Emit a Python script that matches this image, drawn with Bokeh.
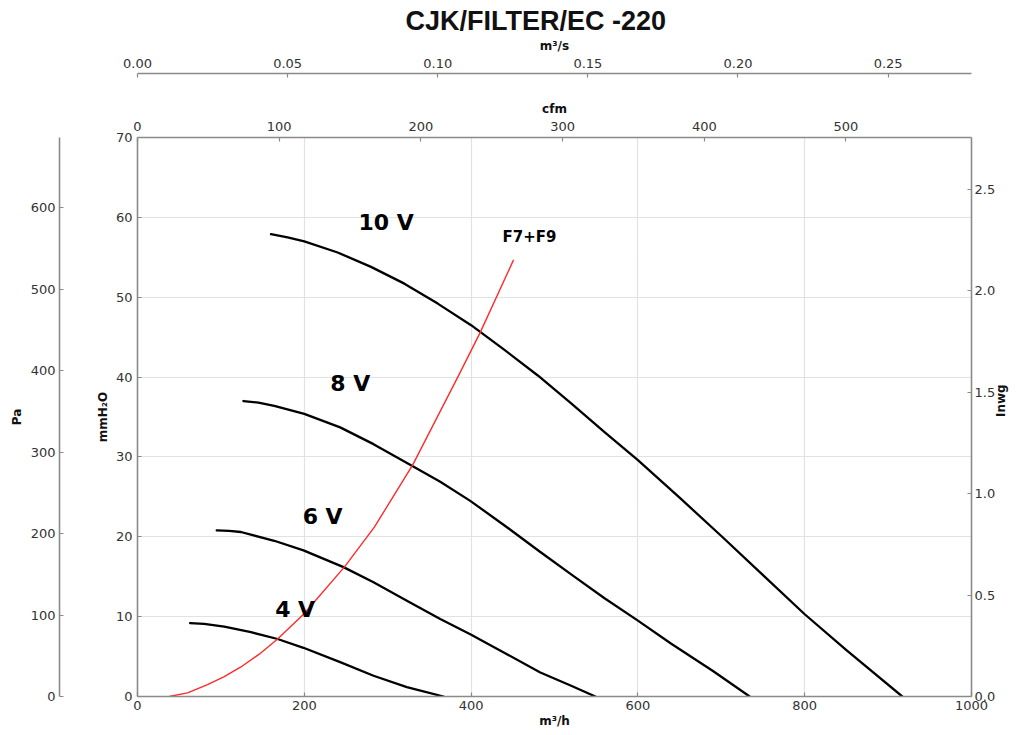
import math
from bokeh.plotting import figure
from bokeh.models import LinearAxis, Range1d, FixedTicker, ColumnDataSource
from bokeh.core.properties import value
from bokeh.embed import file_html
from bokeh.resources import INLINE

# ---------------- data ----------------
q_10v = [160, 180, 200, 240, 280, 320, 360, 400, 440, 480, 520, 560, 600, 650, 700, 750, 800, 850, 917]
p_10v = [57.9, 57.5, 57.0, 55.6, 53.8, 51.7, 49.2, 46.5, 43.4, 40.2, 36.7, 33.1, 29.6, 24.9, 20.1, 15.2, 10.3, 5.8, 0.0]

q_8v = [127, 145, 164, 200, 243, 283, 329, 363, 399, 443, 483, 520, 560, 600, 640, 690, 734]
p_8v = [37.0, 36.8, 36.4, 35.4, 33.7, 31.6, 28.9, 26.9, 24.5, 21.2, 18.1, 15.3, 12.3, 9.5, 6.6, 3.2, 0.0]

q_6v = [95, 110, 124, 164, 199, 247, 283, 323, 363, 399, 443, 483, 520, 549]
p_6v = [20.8, 20.75, 20.6, 19.5, 18.3, 16.2, 14.3, 12.0, 9.7, 7.8, 5.3, 3.0, 1.35, 0.0]

q_4v = [63, 80, 104, 136, 168, 199, 243, 283, 323, 367]
p_4v = [9.2, 9.1, 8.76, 8.05, 7.2, 6.1, 4.3, 2.6, 1.17, 0.0]

q_filter = [38, 60, 84, 104, 124, 146, 168, 200, 248, 284, 330, 384, 411, 451]
p_filter = [0.0, 0.45, 1.5, 2.5, 3.7, 5.3, 7.2, 10.4, 16.2, 21.2, 29.0, 40.0, 45.6, 54.7]

label_text = ["10 V", "8 V", "6 V", "4 V"]
label_q = [298, 255, 222, 189]
label_p = [59.4, 39.15, 22.6, 10.9]
filter_label = ["F7+F9"]
filter_label_q = [470]
filter_label_p = [57.5]

ticks_m3h = [0, 200, 400, 600, 800, 1000]
ticks_mmh2o = [0, 10, 20, 30, 40, 50, 60, 70]
ticks_pa = [0, 100, 200, 300, 400, 500, 600]
ticks_inwg = [0.0, 0.5, 1.0, 1.5, 2.0, 2.5]
ticks_cfm = [0, 100, 200, 300, 400, 500]
ticks_m3s = [0.00, 0.05, 0.10, 0.15, 0.20, 0.25]
labels_inwg = ["0.0", "0.5", "1.0", "1.5", "2.0", "2.5"]
labels_m3s = ["0.00", "0.05", "0.10", "0.15", "0.20", "0.25"]

Q_MAX = 1000.0
P_MAX = 70.0

AX = "#8a8a8a"
TXT = "#333333"

p = figure(width=1018, height=735, output_backend="svg", toolbar_location=None,
           x_range=Range1d(0, Q_MAX), y_range=Range1d(0, P_MAX),
           min_border_left=137, min_border_right=47, min_border_top=137, min_border_bottom=39,
           background_fill_color="white", border_fill_color="white")
p.outline_line_color = None

p.extra_y_ranges = {"pa": Range1d(0, P_MAX * 9.80665), "inwg": Range1d(0, P_MAX / 25.4)}
p.extra_x_ranges = {"cfm": Range1d(0, Q_MAX / 1.69901), "m3s": Range1d(0, Q_MAX / 3600.0)}


def style(ax, label=None):
    ax.axis_line_color = AX
    ax.axis_line_width = 1.6
    ax.major_tick_in = 4
    ax.major_tick_out = 0
    ax.major_tick_line_color = AX
    ax.major_tick_line_width = 1.2
    ax.minor_tick_line_color = None
    ax.major_label_text_font = "DejaVu Sans"
    ax.major_label_text_font_size = "13px"
    ax.major_label_text_color = TXT
    ax.axis_label = label
    ax.axis_label_text_font = "DejaVu Sans"
    ax.axis_label_text_font_size = "12px"
    ax.axis_label_text_font_style = "bold"
    ax.axis_label_text_color = "#111111"


def spacer(ax, size):
    ax.axis_line_color = None
    ax.major_tick_line_color = None
    ax.minor_tick_line_color = None
    ax.major_label_text_font_size = "0px"
    ax.axis_label = " "
    ax.axis_label_text_font_size = "2px"
    ax.axis_label_standoff = size


# bottom m3/h
xa = p.xaxis[0]
style(xa, "m³/h")
xa.ticker = FixedTicker(ticks=ticks_m3h)
xa.major_label_standoff = 4
xa.axis_label_standoff = 1

# left mmH2O (nearest)
ya = p.yaxis[0]
style(ya, "mmH₂O")
ya.ticker = FixedTicker(ticks=ticks_mmh2o)
ya.major_label_standoff = 5
ya.axis_label_standoff = 3

# spacer then Pa
sp_left = LinearAxis(ticker=FixedTicker(ticks=[]))
spacer(sp_left, 28)
p.add_layout(sp_left, "left")

pa_ax = LinearAxis(y_range_name="pa", ticker=FixedTicker(ticks=ticks_pa))
style(pa_ax, "Pa")
pa_ax.major_label_standoff = 4
pa_ax.axis_label_standoff = 4
p.add_layout(pa_ax, "left")

# right inwg
in_ax = LinearAxis(y_range_name="inwg", ticker=FixedTicker(ticks=ticks_inwg))
style(in_ax, "Inwg")
in_ax.major_label_overrides = dict(zip(ticks_inwg, labels_inwg))
in_ax.major_label_standoff = 3
in_ax.axis_label_standoff = 3
in_ax.axis_label_orientation = math.pi / 2
p.add_layout(in_ax, "right")

# top cfm, spacer, m3/s
cfm_ax = LinearAxis(x_range_name="cfm", ticker=FixedTicker(ticks=ticks_cfm))
style(cfm_ax, "cfm")
cfm_ax.major_label_standoff = 7
cfm_ax.axis_label_standoff = 3
p.add_layout(cfm_ax, "above")

sp_top = LinearAxis(x_range_name="cfm", ticker=FixedTicker(ticks=[]))
spacer(sp_top, 20)
p.add_layout(sp_top, "above")

m3s_ax = LinearAxis(x_range_name="m3s", ticker=FixedTicker(ticks=ticks_m3s))
style(m3s_ax, "m³/s")
m3s_ax.major_label_overrides = dict(zip(ticks_m3s, labels_m3s))
m3s_ax.major_label_standoff = 6
m3s_ax.axis_label_standoff = 3
p.add_layout(m3s_ax, "above")

# grids
p.xgrid[0].ticker = FixedTicker(ticks=ticks_m3h)
p.ygrid[0].ticker = FixedTicker(ticks=ticks_mmh2o)
for g in (p.xgrid[0], p.ygrid[0]):
    g.grid_line_color = "#e2e2e2"
    g.grid_line_width = 1.2

# title
p.title.text = "CJK/FILTER/EC -220"
p.title.text_font = "Liberation Sans"
p.title.text_font_size = "27px"
p.title.text_font_style = "bold"
p.title.text_color = "#111111"
p.title.align = "left"
p.title.offset = 268
p.title.standoff = 0

# curves
for qs, ps in ((q_10v, p_10v), (q_8v, p_8v), (q_6v, p_6v), (q_4v, p_4v)):
    p.line(qs, ps, line_color="black", line_width=2.3, line_join="round", line_cap="round")
p.line(q_filter, p_filter, line_color="#ff2a2a", line_width=1.4, line_join="round")

src = ColumnDataSource(dict(x=label_q, y=label_p, t=label_text))
p.text("x", "y", text="t", source=src, text_font=value("DejaVu Sans"), text_font_style="bold",
       text_font_size="22px", text_align="center", text_baseline="middle", text_color="black")
src2 = ColumnDataSource(dict(x=filter_label_q, y=filter_label_p, t=filter_label))
p.text("x", "y", text="t", source=src2, text_font=value("DejaVu Sans"), text_font_style="bold",
       text_font_size="15px", text_align="center", text_baseline="middle", text_color="black")

open("out.html", "w").write(file_html(p, INLINE))
